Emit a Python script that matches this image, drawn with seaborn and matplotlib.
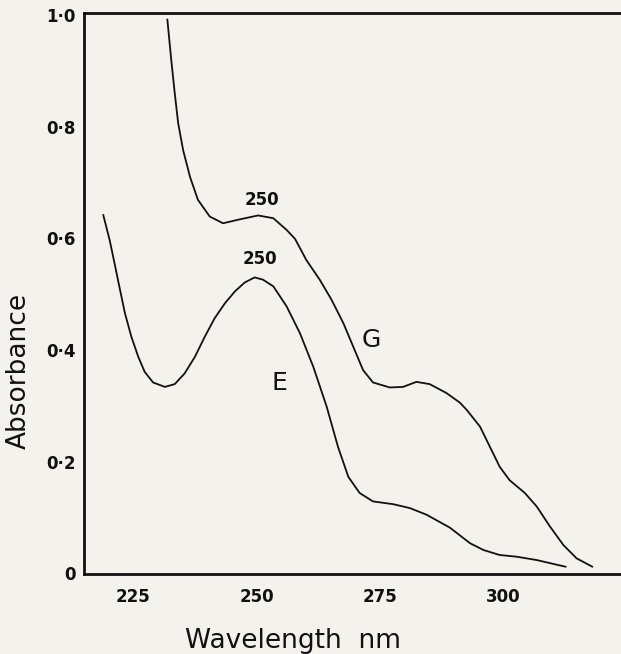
import matplotlib
matplotlib.use("Agg")
import matplotlib.pyplot as plt
import seaborn as sns
import pandas as pd
from matplotlib.ticker import FixedLocator, FixedFormatter

# ---- data ----
g_wavelength = [231.9, 232.7, 233.4, 234.1, 235.1, 236.5, 238.1, 240.5, 243.2, 246.6,
                250.3, 253.4, 256.1, 257.8, 260.1, 262.8, 265.2, 267.6, 269.6, 271.6,
                273.6, 277.0, 279.7, 282.4, 285.1, 288.5, 291.2, 292.6, 295.3, 297.3,
                299.3, 301.3, 304.4, 306.8, 309.5, 312.2, 314.9, 318.1]
g_absorbance = [0.992, 0.919, 0.860, 0.806, 0.758, 0.710, 0.669, 0.639, 0.627, 0.634,
                0.641, 0.636, 0.615, 0.599, 0.561, 0.526, 0.490, 0.448, 0.406, 0.364,
                0.342, 0.333, 0.334, 0.343, 0.339, 0.323, 0.306, 0.293, 0.263, 0.227,
                0.191, 0.167, 0.144, 0.120, 0.084, 0.051, 0.027, 0.012]

e_wavelength = [218.9, 220.2, 221.2, 222.3, 223.3, 224.6, 226.0, 227.3, 229.0, 231.4,
                233.4, 235.4, 237.5, 239.5, 241.5, 243.6, 245.6, 247.6, 249.6, 251.3,
                253.4, 256.1, 258.8, 261.5, 264.2, 266.5, 268.6, 270.9, 273.6, 277.7,
                281.1, 284.5, 289.2, 293.3, 296.0, 299.3, 302.7, 306.8, 310.2, 312.7]
e_absorbance = [0.642, 0.597, 0.555, 0.508, 0.466, 0.424, 0.388, 0.361, 0.342, 0.334,
                0.339, 0.358, 0.388, 0.424, 0.457, 0.484, 0.505, 0.521, 0.530, 0.526,
                0.514, 0.478, 0.430, 0.370, 0.299, 0.227, 0.173, 0.144, 0.129, 0.124,
                0.117, 0.105, 0.082, 0.054, 0.042, 0.033, 0.030, 0.024, 0.017, 0.012]

x_ticks = [225, 250, 275, 300]
x_tick_labels = ["225", "250", "275", "300"]
y_ticks = [0, 0.2, 0.4, 0.6, 0.8, 1.0]
y_tick_labels = ["0", "0\u00b72", "0\u00b74", "0\u00b76", "0\u00b78", "1\u00b70"]
y_minor_ticks = [0.1, 0.3, 0.5, 0.7, 0.9]

peak_labels = ["250", "250"]
peak_label_x = [251.0, 250.7]
peak_label_y = [0.669, 0.563]
curve_names = ["G", "E"]
curve_name_x = [273.2, 254.7]
curve_name_y = [0.418, 0.341]

# ---- build table ----
df = pd.concat([
    pd.DataFrame({"Wavelength": g_wavelength, "Absorbance": g_absorbance, "curve": "G"}),
    pd.DataFrame({"Wavelength": e_wavelength, "Absorbance": e_absorbance, "curve": "E"}),
], ignore_index=True)

sns.set_style("white")
plt.rcParams["font.family"] = ["DejaVu Sans"]

bg = "#f4f2ec"
fig = plt.figure(figsize=(6.21, 6.54), dpi=100, facecolor=bg)
ax = fig.add_axes([84 / 621, 1 - 574 / 654, 1 - 84 / 621, (574 - 12.7) / 654])
ax.set_facecolor(bg)

sns.lineplot(data=df, x="Wavelength", y="Absorbance", hue="curve", units="curve",
             estimator=None, sort=False, palette={"G": "#111111", "E": "#111111"},
             linewidth=1.3, legend=False, ax=ax)
for ln in ax.get_lines():
    ln.set_solid_joinstyle("round")
    ln.set_solid_capstyle("round")

ax.set_xlim(215.0, 323.9)
ax.set_ylim(-0.001, 1.004)

ax.xaxis.set_major_locator(FixedLocator(x_ticks))
ax.xaxis.set_major_formatter(FixedFormatter(x_tick_labels))
ax.yaxis.set_major_locator(FixedLocator(y_ticks))
ax.yaxis.set_major_formatter(FixedFormatter(y_tick_labels))
ax.yaxis.set_minor_locator(FixedLocator(y_minor_ticks))

ax.tick_params(axis="both", which="both", direction="in", length=6, width=1.5,
               color="#111111", labelcolor="#111111")
ax.tick_params(axis="x", which="major", pad=10, labelsize=12)
ax.tick_params(axis="y", which="major", pad=6, labelsize=12)
for lab in ax.get_xticklabels() + ax.get_yticklabels():
    lab.set_fontweight("bold")

for side in ["left", "bottom", "top"]:
    ax.spines[side].set_linewidth(2.0)
    ax.spines[side].set_color("#111111")
ax.spines["right"].set_visible(False)

ax.set_xlabel("Wavelength  nm", fontsize=19, color="#111111")
ax.set_ylabel("Absorbance", fontsize=19, color="#111111")
ax.xaxis.set_label_coords(0.389, -0.097)
ax.yaxis.set_label_coords(-0.097, 0.362)

for t, x, y in zip(peak_labels, peak_label_x, peak_label_y):
    ax.text(x, y, t, ha="center", va="center", fontsize=12, fontweight="bold",
            color="#111111")
for t, x, y in zip(curve_names, curve_name_x, curve_name_y):
    ax.text(x, y, t, ha="center", va="center", fontsize=18, color="#111111")

fig.savefig("out.png", dpi=100, facecolor=bg)
